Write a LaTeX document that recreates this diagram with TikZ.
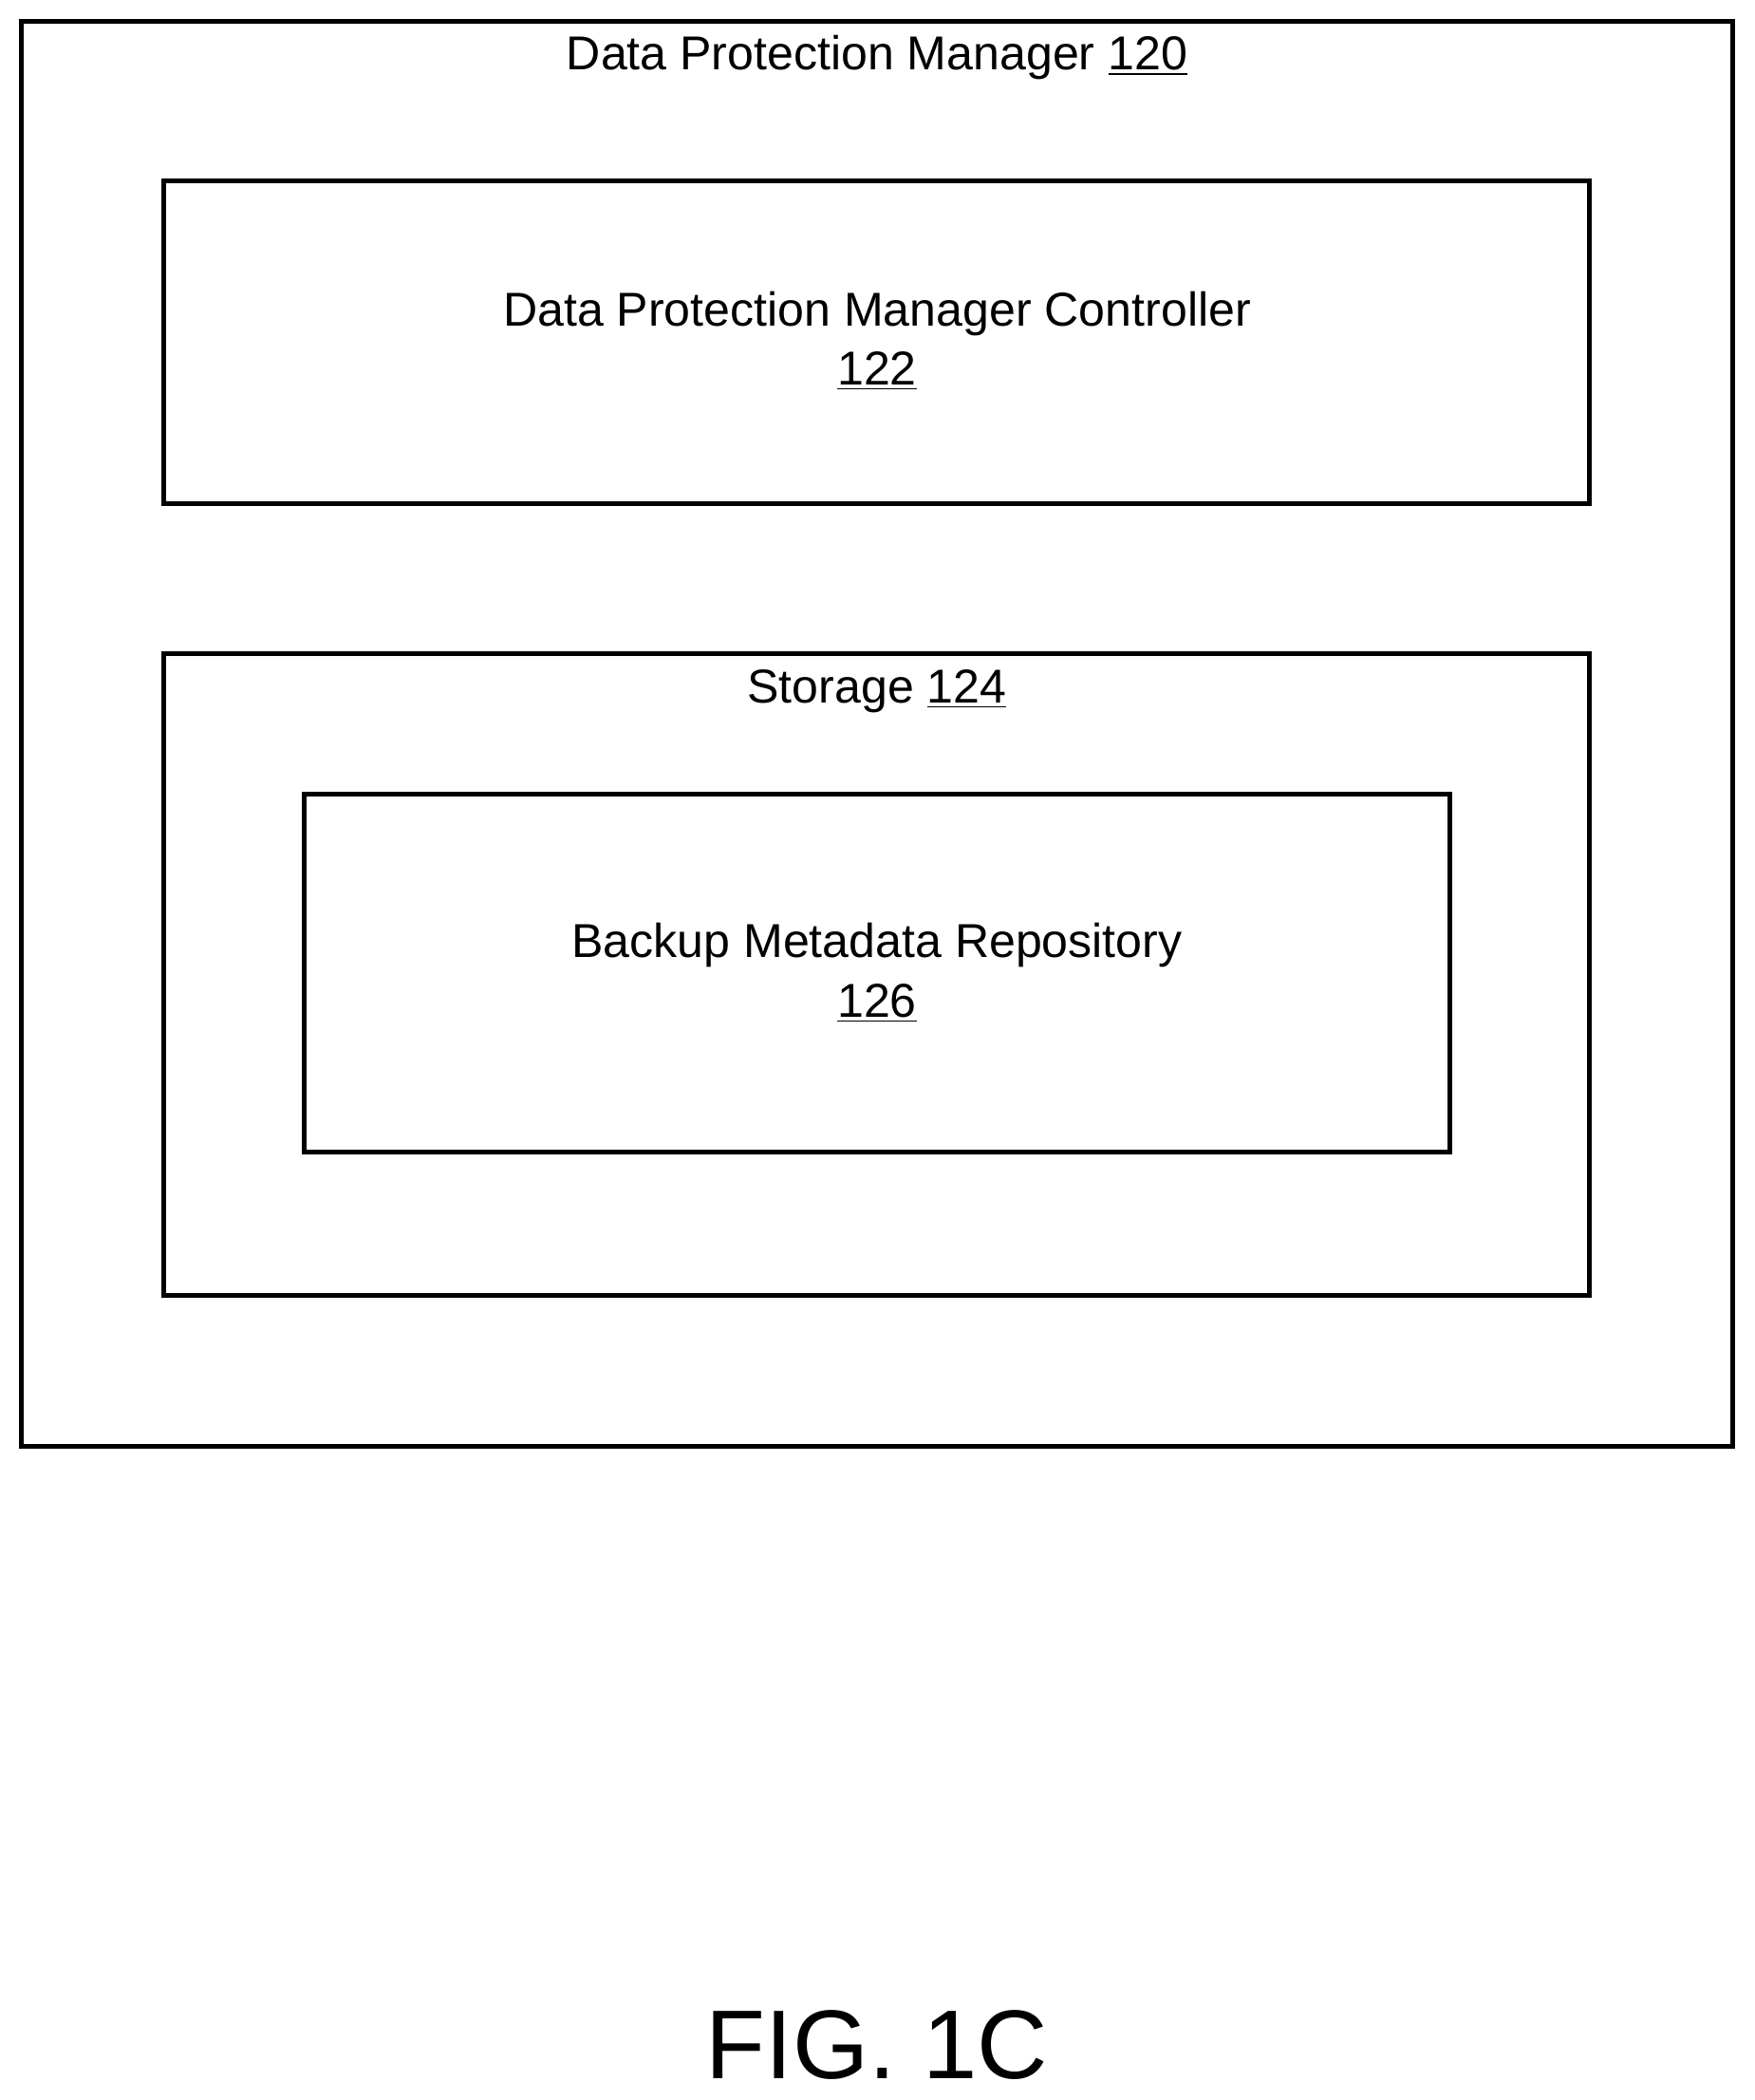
\documentclass[tikz,border=0pt]{standalone}
\usepackage{fontspec}
\setmainfont{Liberation Sans}
\begin{document}
\begin{tikzpicture}[x=0.5pt,y=-0.5pt,
  box/.style={draw,line width=1.8pt},
  lbl/.style={font=\fontsize{17.75}{21}\selectfont,inner sep=0pt,align=center}]
\useasboundingbox (0,0) rectangle (1310,1568);
\draw[box] (16,16) rectangle (1294,1080);
\draw[box] (122,135) rectangle (1187,376);
\draw[box] (122,488) rectangle (1187,967);
\draw[box] (227,593) rectangle (1083,860);
\node[lbl] (t1) at (655,43) {Data Protection Manager \underline{120}};
\node[lbl] (t2) at (655,234) {Data Protection Manager Controller};
\node[lbl] (t2b) at (655,277) {\underline{122}};
\node[lbl] (t3) at (655,516) {Storage \underline{124}};
\node[lbl] (t4) at (655,706) {Backup Metadata Repository};
\node[lbl] (t4b) at (655,749) {\underline{126}};
\node[inner sep=0pt,font=\fontsize{36.5}{42}\selectfont] (fig) at (655,1527) {FIG. 1C};
\end{tikzpicture}
\end{document}
